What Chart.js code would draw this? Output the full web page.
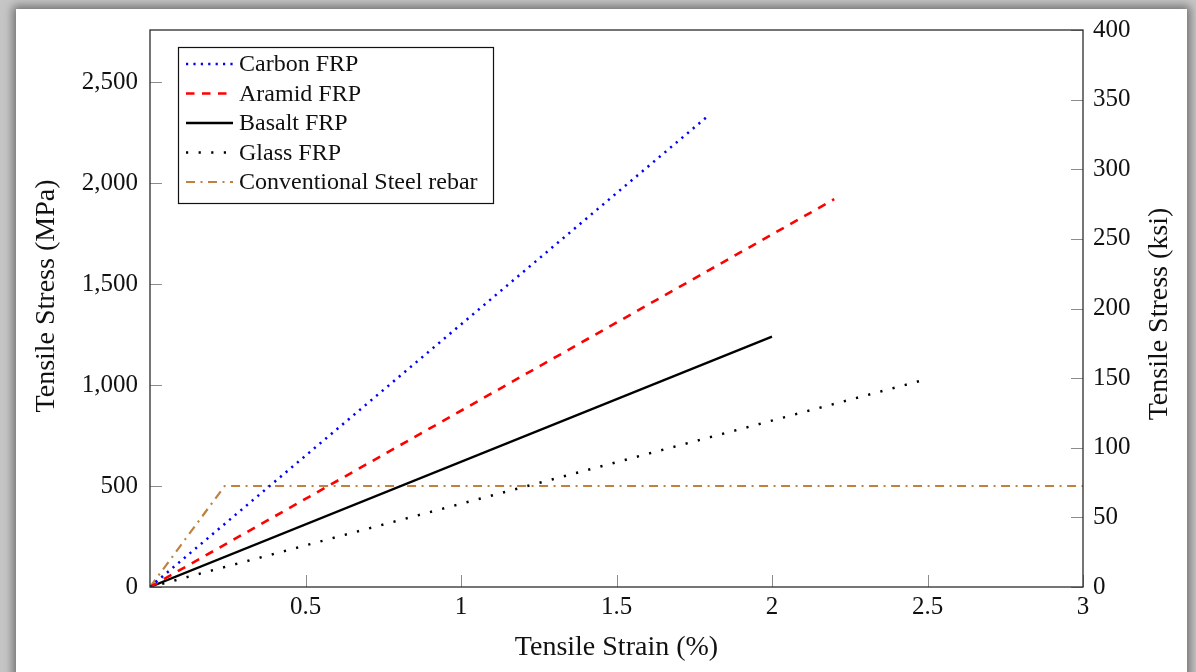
<!DOCTYPE html>
<html>
<head>
<meta charset="utf-8">
<script src="https://cdn.jsdelivr.net/npm/chart.js@4.4.1/dist/chart.umd.min.js"></script>
<style>
html, body { margin: 0; padding: 0; width: 1196px; height: 672px; overflow: hidden; background: #c6c6c6; }
#panel { position: absolute; left: 16px; top: 9px; width: 1171px; height: 700px; background: #fff; box-shadow: 0 0 9px 3px #6e6e6e; }
#wrap { position: absolute; left: 0; top: 0; width: 1196px; height: 672px; }
</style>
</head>
<body>
<div id="panel"></div>
<div id="wrap"><canvas id="chart"></canvas></div>
<script>
// data (strain in %, stress in MPa)
const seriesNames = ['Carbon FRP', 'Aramid FRP', 'Basalt FRP', 'Glass FRP', 'Conventional Steel rebar'];
const carbonStrain = [0, 1.8];
const carbonStress = [0, 2340];
const aramidStrain = [0, 2.2];
const aramidStress = [0, 1920];
const basaltStrain = [0, 2.0];
const basaltStress = [0, 1240];
const glassStrain = [0, 2.5];
const glassStress = [0, 1030];
const steelStrain = [0, 0.24, 3];
const steelStress = [0, 500, 500];

const strainTicks = [0.5, 1, 1.5, 2, 2.5, 3];
const mpaTicks = [0, 500, 1000, 1500, 2000, 2500];
const ksiTicks = [0, 50, 100, 150, 200, 250, 300, 350, 400];
const ksiToMpa = 6.894757;

const serif = "'Liberation Serif', 'DejaVu Serif', serif";

function pts(xs, ys) {
    return xs.map((v, i) => ({ x: v, y: ys[i] }));
}

const datasets = [
    { label: seriesNames[0], data: pts(carbonStrain, carbonStress), borderColor: '#0000ff', borderWidth: 2.5, borderDash: [2.2, 5.2] },
    { label: seriesNames[1], data: pts(aramidStrain, aramidStress), borderColor: '#ff0000', borderWidth: 2.6, borderDash: [8.5, 7.5] },
    { label: seriesNames[2], data: pts(basaltStrain, basaltStress), borderColor: '#000000', borderWidth: 2.3, borderDash: [] },
    { label: seriesNames[3], data: pts(glassStrain, glassStress), borderColor: '#000000', borderWidth: 2.5, borderDash: [2.2, 10.4] },
    { label: seriesNames[4], data: pts(steelStrain, steelStress), borderColor: '#bf8040', borderWidth: 2.2, borderDash: [9, 5.5, 2, 5.5] }
];
datasets.forEach(d => { d.pointRadius = 0; d.fill = false; d.tension = 0; d.borderCapStyle = 'butt'; });

// axis frame, inward ticks, titles and legend
const framePlugin = {
    id: 'frame',
    afterDraw(chart) {
        const ctx = chart.ctx;
        const a = chart.chartArea;
        const sx = chart.scales.x, sy = chart.scales.y, sy2 = chart.scales.y2;
        ctx.save();

        ctx.strokeStyle = '#8c8c8c';
        ctx.lineWidth = 1;
        ctx.beginPath();
        mpaTicks.forEach(v => {
            const p = Math.round(sy.getPixelForValue(v)) + 0.5;
            ctx.moveTo(a.left, p); ctx.lineTo(a.left + 12, p);
        });
        ksiTicks.forEach(v => {
            const p = Math.round(sy2.getPixelForValue(v)) + 0.5;
            ctx.moveTo(a.right, p); ctx.lineTo(a.right - 12, p);
        });
        strainTicks.forEach(v => {
            const p = Math.round(sx.getPixelForValue(v)) + 0.5;
            ctx.moveTo(p, a.bottom); ctx.lineTo(p, a.bottom - 12);
        });
        ctx.stroke();

        ctx.strokeStyle = '#2b2b2b';
        ctx.lineWidth = 1.3;
        ctx.strokeRect(a.left, a.top, a.right - a.left, a.bottom - a.top);

        // axis titles
        ctx.fillStyle = '#111';
        ctx.font = '28px ' + serif;
        ctx.textAlign = 'center';
        ctx.textBaseline = 'middle';
        ctx.fillText('Tensile Strain (%)', (a.left + a.right) / 2, 648);
        ctx.save();
        ctx.translate(47, 296);
        ctx.rotate(-Math.PI / 2);
        ctx.fillText('Tensile Stress (MPa)', 0, 0);
        ctx.restore();
        ctx.save();
        ctx.translate(1160, 314);
        ctx.rotate(-Math.PI / 2);
        ctx.fillText('Tensile Stress (ksi)', 0, 0);
        ctx.restore();

        // legend
        const lx = 178, ly = 47, lw = 315, lh = 156;
        ctx.fillStyle = '#fff';
        ctx.fillRect(lx, ly, lw, lh);
        ctx.strokeStyle = '#111';
        ctx.lineWidth = 1.2;
        ctx.strokeRect(lx + 0.5, ly + 0.5, lw, lh);
        ctx.font = '24px ' + serif;
        ctx.textAlign = 'left';
        chart.data.datasets.forEach((d, i) => {
            const yy = 64 + i * 29.5;
            ctx.strokeStyle = d.borderColor;
            ctx.lineWidth = d.borderWidth;
            ctx.setLineDash(d.borderDash);
            ctx.beginPath();
            ctx.moveTo(186, yy); ctx.lineTo(233, yy);
            ctx.stroke();
            ctx.setLineDash([]);
            ctx.fillStyle = '#111';
            ctx.fillText(d.label, 239, yy + 1);
        });
        ctx.restore();
    }
};

const tickFont = { family: serif, size: 25 };

new Chart(document.getElementById('chart'), {
    type: 'line',
    data: { datasets: datasets },
    options: {
        responsive: true,
        maintainAspectRatio: false,
        animation: false,
        layout: { padding: { top: 30, left: 0, right: 0, bottom: 0 } },
        plugins: { legend: { display: false }, tooltip: { enabled: false } },
        scales: {
            x: {
                type: 'linear', min: 0, max: 3,
                grid: { display: false, drawTicks: false },
                border: { display: false },
                afterBuildTicks: s => { s.ticks = strainTicks.map(v => ({ value: v })); },
                afterFit: s => { s.height = 85; },
                ticks: { font: tickFont, color: '#111', padding: 5, maxRotation: 0, callback: v => String(v) }
            },
            y: {
                type: 'linear', position: 'left', min: 0, max: 400 * ksiToMpa,
                grid: { display: false, drawTicks: false },
                border: { display: false },
                afterBuildTicks: s => { s.ticks = mpaTicks.map(v => ({ value: v })); },
                afterFit: s => { s.width = 150; },
                ticks: { font: tickFont, color: '#111', padding: 12, callback: v => v.toLocaleString('en-US') }
            },
            y2: {
                type: 'linear', position: 'right', min: 0, max: 400,
                grid: { display: false, drawTicks: false },
                border: { display: false },
                afterBuildTicks: s => { s.ticks = ksiTicks.map(v => ({ value: v })); },
                afterFit: s => { s.width = 113; },
                ticks: { font: tickFont, color: '#111', padding: 10, callback: v => String(v) }
            }
        }
    },
    plugins: [framePlugin]
});
</script>
</body>
</html>
